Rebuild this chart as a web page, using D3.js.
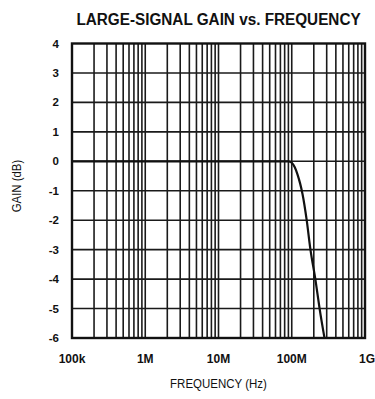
<!DOCTYPE html>
<html>
<head>
<meta charset="utf-8">
<script src="https://cdn.jsdelivr.net/npm/d3@7"></script>
<style>
  html, body { margin: 0; padding: 0; background: #fff; }
  svg { display: block; }
  text { font-family: "Liberation Sans Narrow", "Liberation Sans", Arial, sans-serif; fill: #111; }
</style>
</head>
<body>
<svg id="chart" width="375" height="399"></svg>
<script>
// Large-signal gain response, frequency in Hz, gain in dB
const frequencyHz = [1e5, 1e6, 1e7, 5e7, 8e7, 9e7, 1e8, 1.1e8, 1.2e8, 1.3e8, 1.4e8, 1.6e8, 1.8e8, 2.1e8, 2.4e8, 2.8e8];
const gainDb      = [0,   0,   0,   0,   0,   0,   -0.05, -0.2, -0.45, -0.75, -1.1, -2,  -3,  -4,  -5,  -6];

const xTickValues = [1e5, 1e6, 1e7, 1e8, 1e9];
const xTickLabels = ["100k", "1M", "10M", "100M", "1G"];
const yTickValues = [4, 3, 2, 1, 0, -1, -2, -3, -4, -5, -6];
const yTickLabels = ["4", "3", "2", "1", "0", "-1", "-2", "-3", "-4", "-5", "-6"];

const titleText = "LARGE-SIGNAL GAIN vs. FREQUENCY";
const xTitle = "FREQUENCY (Hz)";
const yTitle = "GAIN (dB)";

const plot = { left: 72, right: 365, top: 43.5, bottom: 338 };

const svg = d3.select("#chart");

const x = d3.scaleLog().domain([1e5, 1e9]).range([plot.left, plot.right]);
const y = d3.scaleLinear().domain([-6, 4]).range([plot.bottom, plot.top]);

// minor + major vertical grid: 1..9 in each decade
const vGrid = [];
for (let e = 5; e < 9; e++) {
  for (let m = 2; m <= 9; m++) vGrid.push(m * Math.pow(10, e));
  if (e > 5) vGrid.push(Math.pow(10, e));
}

const grid = svg.append("g").attr("class", "grid");
grid.selectAll("line.v").data(vGrid).join("line")
  .attr("class", "v")
  .attr("x1", d => x(d)).attr("x2", d => x(d))
  .attr("y1", plot.top).attr("y2", plot.bottom)
  .attr("stroke", "#1a1a1a").attr("stroke-width", 1.6);

grid.selectAll("line.h").data(yTickValues.filter(v => v !== 4 && v !== -6)).join("line")
  .attr("class", "h")
  .attr("x1", plot.left).attr("x2", plot.right)
  .attr("y1", d => y(d)).attr("y2", d => y(d))
  .attr("stroke", "#1a1a1a").attr("stroke-width", 1.6);

// frame
svg.append("rect")
  .attr("x", plot.left).attr("y", plot.top)
  .attr("width", plot.right - plot.left).attr("height", plot.bottom - plot.top)
  .attr("fill", "none").attr("stroke", "#111").attr("stroke-width", 2.4);

// response curve
const line = d3.line()
  .x((d, i) => x(frequencyHz[i]))
  .y(d => y(d))
  .curve(d3.curveMonotoneX);

svg.append("path")
  .datum(gainDb)
  .attr("d", line)
  .attr("fill", "none")
  .attr("stroke", "#111")
  .attr("stroke-width", 2.2);

// y tick labels
svg.append("g").selectAll("text").data(yTickValues).join("text")
  .attr("x", 59)
  .attr("y", d => y(d) + 4)
  .attr("text-anchor", "end")
  .attr("font-size", 11.5)
  .attr("font-weight", "bold")
  .text((d, i) => yTickLabels[i]);

// x tick labels
svg.append("g").selectAll("text").data(xTickValues).join("text")
  .attr("x", (d, i) => i === xTickValues.length - 1 ? x(d) + 2 : x(d))
  .attr("y", 363)
  .attr("text-anchor", "middle")
  .attr("font-size", 12)
  .attr("font-weight", "bold")
  .text((d, i) => xTickLabels[i]);

// titles (horizontally condensed)
svg.append("text")
  .attr("transform", "translate(218.5,24.5) scale(0.9,1)")
  .attr("text-anchor", "middle")
  .attr("font-size", 17)
  .attr("font-weight", "bold")
  .text(titleText);

svg.append("text")
  .attr("transform", "translate(218.5,387.5) scale(0.92,1)")
  .attr("text-anchor", "middle")
  .attr("font-size", 12.5)
  .text(xTitle);

svg.append("text")
  .attr("transform", "translate(21,186) rotate(-90) scale(0.95,1)")
  .attr("text-anchor", "middle")
  .attr("font-size", 12)
  .text(yTitle);
</script>
</body>
</html>
